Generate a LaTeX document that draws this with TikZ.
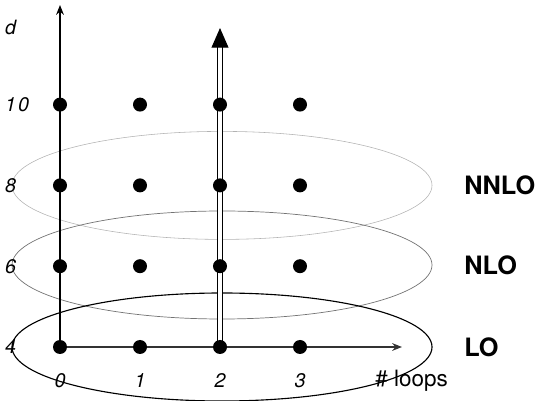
\documentclass[tikz,border=0pt]{standalone}
\usepackage{fontspec}
\setmainfont{TeX Gyre Heros}
\usetikzlibrary{arrows.meta,shapes.geometric,positioning}

\pgfdeclarelayer{background}
\pgfsetlayers{background,main}

\tikzset{
  loopdot/.style={circle, fill, inner sep=0pt, minimum size=0.35cm},
  ordbox/.style={ellipse, draw, minimum width=10.5cm, minimum height=2.7cm, inner sep=0pt},
  ordlabel/.style={font=\fontsize{18}{21}\selectfont\bfseries, anchor=west, inner sep=0pt},
  ticklabel/.style={font=\fontsize{14}{16}\selectfont\itshape, inner sep=0pt},
  axis/.style={line width=0.8pt, -{Stealth[length=7pt,width=5.5pt]}}
}

\begin{document}
\begin{tikzpicture}
\useasboundingbox (-1.5,-1.35) rectangle (11.875,8.675);

% grid of points
\foreach \i in {0,...,3}
  \foreach \j in {0,...,3}
    \node[loopdot] (p\i\j) at (2*\i, 2.02*\j) {};

\coordinate (dtop) at (0,8.55);
\coordinate (looptop) at (8.55,0);
\coordinate (twotop) at (4,7.975);

\begin{pgfonlayer}{background}
  % orders
  \node[ordbox, draw=black!30, line width=0.4pt] (nnlo) at (4.05,4.04) {};
  \node[ordbox, draw=black!55, line width=0.5pt] (nlo) at (4.05,2.05) {};
  \node[ordbox, draw=black, line width=0.8pt] (lo) at (4.05,0) {};

  % axes
  \draw[axis] (p00.center) -- (dtop);
  \draw[axis, draw=black!80] (p00.center) -- (looptop);
  \draw[double, double distance=2.9pt, line width=0.9pt, -{Triangle[length=14pt,width=12pt]}] (p20.center) -- (twotop);
\end{pgfonlayer}

\node[ordlabel] (nnlolab) at (10.1,4.04) {NNLO};
\node[ordlabel] (nlolab) at (10.1,2.05) {NLO};
\node[ordlabel] (lolab) at (10.1,0) {LO};

% axis labels
\node[ticklabel, anchor=west] (dlab) at (-1.38,8.0) {d};
\foreach \j/\d in {0/4,1/6,2/8}
  \node[ticklabel, anchor=west] (d\d) at (-1.38,2.02*\j) {\d};
\node[ticklabel, anchor=west] (d10) at (-1.38,6.06) {1\kern1.5pt0};
\foreach \i in {0,...,3}
  \node[ticklabel] (n\i) at (2*\i,-0.85) {\i};
\node[font=\fontsize{16}{19}\selectfont, anchor=west, inner sep=0pt] (loopslab) at (7.875,-0.85) {\# loops};
\end{tikzpicture}
\end{document}
